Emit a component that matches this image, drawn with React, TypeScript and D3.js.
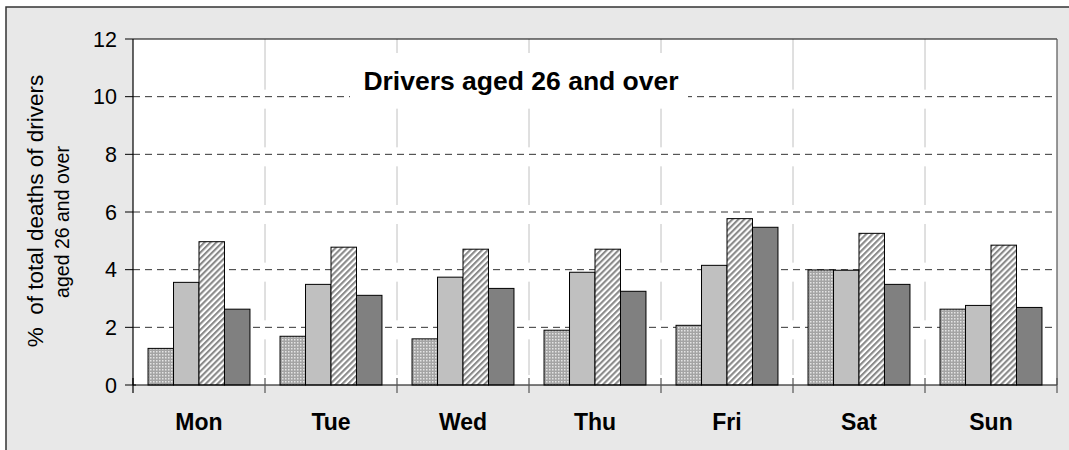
import React from "react";
import * as d3 from "d3";

const days = ["Mon", "Tue", "Wed", "Thu", "Fri", "Sat", "Sun"];
const seriesNames = ["s1", "s2", "s3", "s4"];
const s1 = [1.27, 1.69, 1.6, 1.9, 2.07, 3.99, 2.63];
const s2 = [3.56, 3.49, 3.74, 3.91, 4.15, 3.98, 2.76];
const s3 = [4.97, 4.78, 4.71, 4.71, 5.77, 5.26, 4.85];
const s4 = [2.63, 3.11, 3.35, 3.25, 5.47, 3.49, 2.69];
const yTicks = [0, 2, 4, 6, 8, 10, 12];
const gridValues = [2, 4, 6, 8, 10];
const title = "Drivers aged 26 and over";
const yTitle1 = "%  of total deaths of drivers";
const yTitle2 = "aged 26 and over";

const W = 1069;
const H = 450;
const left = 133;
const right = 1057;
const top = 39;
const bottom = 385;
const font = "'Liberation Sans', Arial, sans-serif";

export default function App() {
  const x = d3.scaleBand<string>().domain(days).range([left, right]).paddingInner(0).paddingOuter(0);
  const xs = d3.scaleBand<string>().domain(seriesNames).range([0, x.bandwidth()]).paddingInner(0).paddingOuter(0.59);
  const y = d3.scaleLinear().domain([0, 12]).range([bottom, top]);
  const data = [s1, s2, s3, s4];
  const fills = ["url(#dots)", "#c0c0c0", "url(#hatch)", "#808080"];

  const boundaries = days.map((d) => x(d) as number).concat([right]);
  const inner = boundaries.slice(1, -1);

  const tb = { x0: 350, x1: 688, y0: 53, y1: 99 };

  const gaps: [number, number][] = gridValues.map((v) => [y(v) - 7, y(v) + 12] as [number, number]);
  const vSegments = (xv: number) => {
    const g = [...gaps];
    if (xv > tb.x0 && xv < tb.x1) g.push([tb.y0, tb.y1]);
    g.sort((a, b) => a[0] - b[0]);
    const segs: [number, number][] = [];
    let cur = top;
    for (const [a, b] of g) {
      if (a > cur) segs.push([cur, a]);
      cur = Math.max(cur, b);
    }
    if (cur < bottom - 10) segs.push([cur, bottom - 10]);
    return segs;
  };

  return (
    <svg width={W} height={H} style={{ position: "absolute", left: 0, top: 0 }} fontFamily={font}>
      <defs>
        <pattern id="dots" width="3" height="3" patternUnits="userSpaceOnUse">
          <rect width="3" height="3" fill="#a4a4a4" />
          <rect x="0" y="0" width="1.5" height="1.5" fill="#e4e4e4" />
        </pattern>
        <pattern id="hatch" width="4.2" height="4.2" patternUnits="userSpaceOnUse" patternTransform="rotate(45)">
          <rect width="4.2" height="4.2" fill="#ffffff" />
          <rect width="2.1" height="4.2" fill="#8a8a8a" />
        </pattern>
      </defs>
      <rect x={0} y={0} width={W} height={H} fill="#ffffff" />
      <rect x={6} y={7} width={W + 10} height={H + 10} fill="#e8e8e8" stroke="#333" strokeWidth={1.5} />
      <rect x={left} y={top} width={right - left} height={bottom - top} fill="#ffffff" />

      {inner.map((xv, i) =>
        vSegments(xv).map(([a, b], j) => (
          <line key={`v${i}-${j}`} x1={xv} x2={xv} y1={a} y2={b} stroke="#c0c0c0" strokeWidth={1} />
        ))
      )}

      {gridValues.map((v) => (
        <line key={`g${v}`} x1={left} x2={right} y1={y(v)} y2={y(v)} stroke="#333" strokeWidth={1} strokeDasharray="7,5" />
      ))}

      <rect x={tb.x0} y={tb.y0} width={tb.x1 - tb.x0} height={tb.y1 - tb.y0} fill="#ffffff" />
      <text x={521} y={90} textAnchor="middle" fontSize={26.5} fontWeight="bold" fill="#000">
        {title}
      </text>

      {data.map((arr, si) =>
        days.map((d, di) => {
          const bx = (x(d) as number) + (xs(seriesNames[si]) as number);
          const by = y(arr[di]);
          return (
            <rect
              key={`b${si}-${di}`}
              x={bx}
              y={by}
              width={xs.bandwidth()}
              height={bottom - by}
              fill={fills[si]}
              stroke="#000"
              strokeWidth={1}
            />
          );
        })
      )}

      <line x1={left} x2={right} y1={top} y2={top} stroke="#000" strokeWidth={1.2} />
      <line x1={right} x2={right} y1={top} y2={bottom} stroke="#555" strokeWidth={1.2} />
      <line x1={left} x2={left} y1={top} y2={bottom} stroke="#000" strokeWidth={1.2} />
      <line x1={left} x2={right} y1={bottom} y2={bottom} stroke="#000" strokeWidth={1.2} />

      {boundaries.map((xv, i) => (
        <line key={`xt${i}`} x1={xv} x2={xv} y1={378} y2={393} stroke={i === 0 ? "#000" : "#555"} strokeWidth={1.2} />
      ))}

      {yTicks.map((v) => (
        <g key={`yt${v}`}>
          <line x1={125} x2={v === 0 ? 136 : left} y1={y(v)} y2={y(v)} stroke="#000" strokeWidth={1} />
          <text x={117} y={y(v)} dy="0.36em" textAnchor="end" fontSize={21.5} fill="#000">
            {v}
          </text>
        </g>
      ))}

      {days.map((d) => (
        <text key={`xl${d}`} x={(x(d) as number) + x.bandwidth() / 2} y={430} textAnchor="middle" fontSize={23} fontWeight="bold" fill="#000">
          {d}
        </text>
      ))}

      <text transform="translate(43, 211) rotate(-90)" textAnchor="middle" fontSize={22.5} fill="#000" style={{ whiteSpace: "pre" }}>
        {yTitle1}
      </text>
      <text transform="translate(69, 222) rotate(-90)" textAnchor="middle" fontSize={19.5} fill="#000">
        {yTitle2}
      </text>
    </svg>
  );
}
